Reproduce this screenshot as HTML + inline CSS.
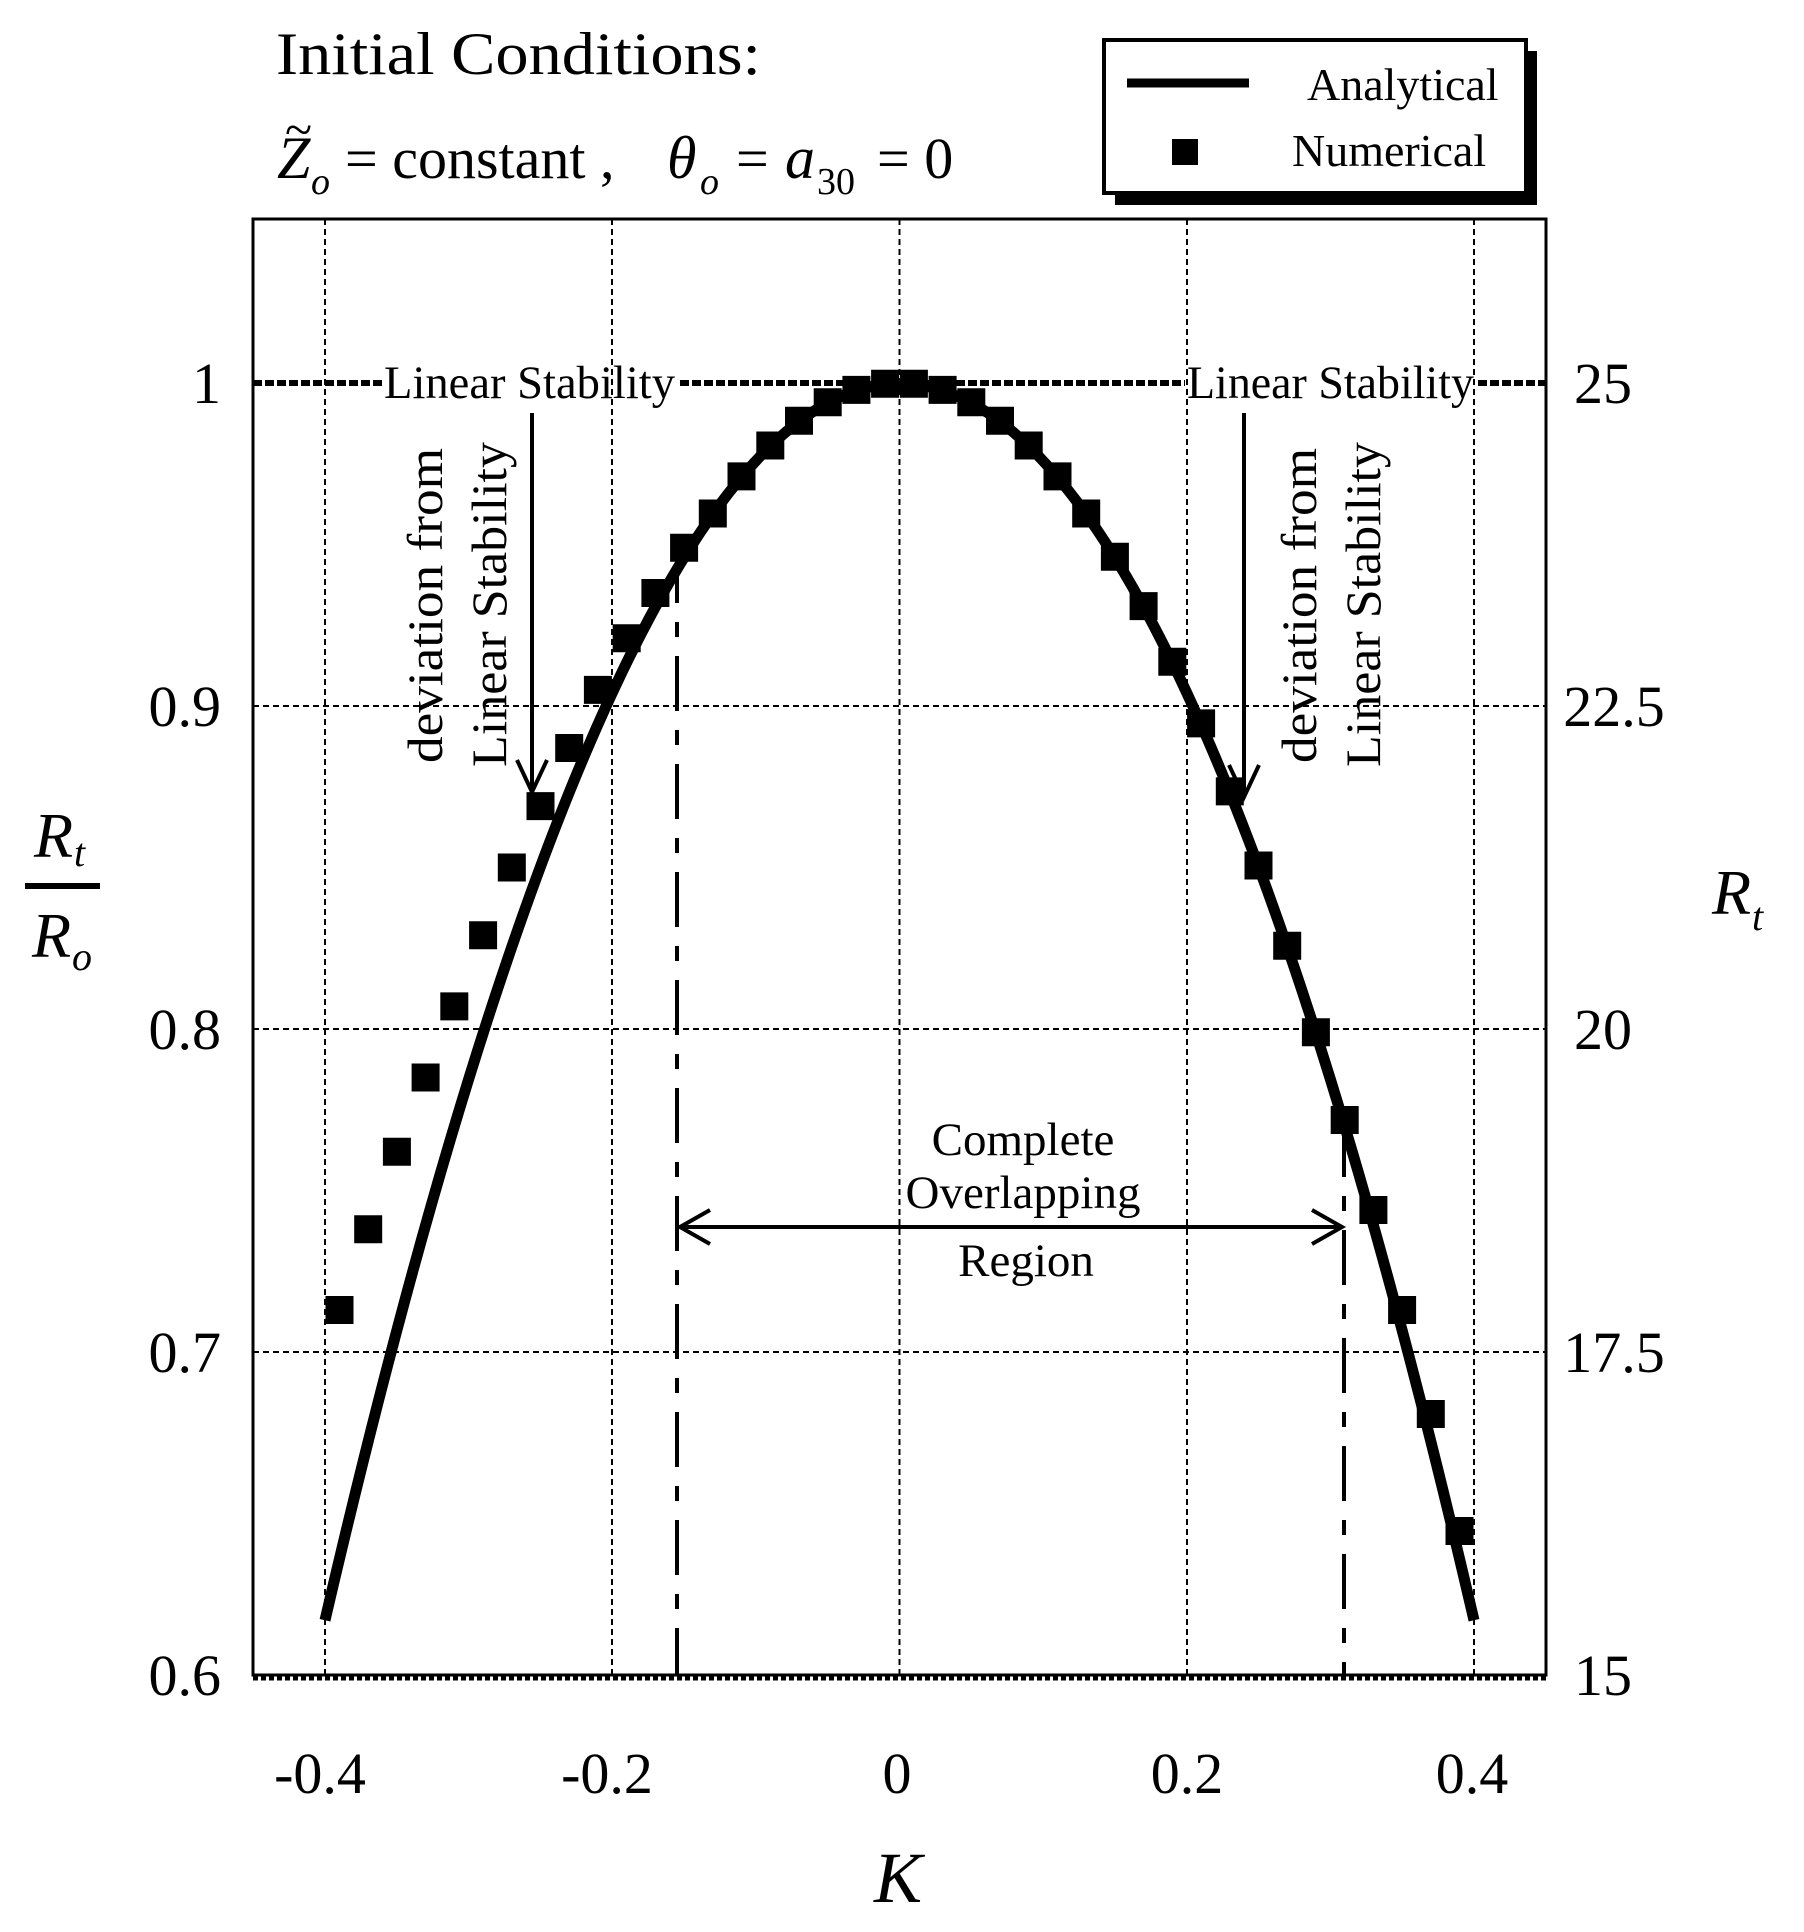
<!DOCTYPE html>
<html><head><meta charset="utf-8"><style>
html,body{margin:0;padding:0;background:#fff;}
svg{display:block;}
text{font-family:"Liberation Serif",serif;fill:#000;}
</style></head><body>
<svg width="1804" height="1932" viewBox="0 0 1804 1932" xmlns="http://www.w3.org/2000/svg">
<g stroke="#000" stroke-width="2" stroke-dasharray="6 4" fill="none">
<path d="M325 219V1675M612 219V1675M899.5 219V1675M1187 219V1675M1474 219V1675M253 706H1546M253 1029H1546M253 1352H1546"/>
<line x1="253" y1="1678" x2="1546" y2="1678" stroke-width="5" stroke-dasharray="5 3"/>
</g>
<path stroke="#000" stroke-width="6" stroke-dasharray="9 3" d="M253 383H382M680 383H1185M1478 383H1546"/>
<rect x="253" y="219" width="1293" height="1456" fill="none" stroke="#000" stroke-width="3"/>
<path stroke="#000" stroke-width="4" stroke-dasharray="55 19 15 19" d="M677 548V1675M1344 1122V1675"/>
<path fill="none" stroke="#000" stroke-width="11" d="M325 1620.3 Q899.5 -853 1474 1620.3"/>
<path fill="#000" transform="translate(-14,-14)" d="M913.9 383.8h28v28h-28zM942.6 389.9h28v28h-28zM971.3 402.3h28v28h-28zM1000 420.8h28v28h-28zM1028.7 445.5h28v28h-28zM1057.5 476.4h28v28h-28zM1086.2 513.5h28v28h-28zM1114.9 556.7h28v28h-28zM1143.6 606.1h28v28h-28zM1172.3 661.7h28v28h-28zM1201.1 723.4h28v28h-28zM1229.8 791.4h28v28h-28zM1258.5 865.5h28v28h-28zM1287.2 945.8h28v28h-28zM1315.9 1032.3h28v28h-28zM1344.7 1120h28v28h-28zM1373.4 1210h28v28h-28zM1402.1 1310h28v28h-28zM1430.8 1414h28v28h-28zM1459.5 1531h28v28h-28zM885.1 383.8h28v28h-28zM856.4 389.9h28v28h-28zM827.7 402.3h28v28h-28zM799 420.8h28v28h-28zM770.3 445.5h28v28h-28zM741.5 476.4h28v28h-28zM712.8 513.5h28v28h-28zM684.1 547.7h28v28h-28zM655.4 593h28v28h-28zM626.7 638.2h28v28h-28zM597.9 689.9h28v28h-28zM569.2 748h28v28h-28zM540.5 806.1h28v28h-28zM511.8 867.5h28v28h-28zM483.1 935.3h28v28h-28zM454.3 1006.4h28v28h-28zM425.6 1077.5h28v28h-28zM396.9 1151.7h28v28h-28zM368.2 1229.3h28v28h-28zM339.5 1310h28v28h-28z"/>
<path stroke="#000" stroke-width="4" fill="none" d="M680 1227H1342M710 1210L680 1227L710 1244M1312 1210L1342 1227L1312 1244M532 413V790M517 760L532 792L547 760M1244 413V795M1229 765L1244 797L1259 765"/>
<text x="384" y="398" font-size="47" textLength="291" lengthAdjust="spacingAndGlyphs">Linear Stability</text>
<text x="1187" y="398" font-size="47" textLength="287" lengthAdjust="spacingAndGlyphs">Linear Stability</text>
<text transform="translate(442,763) rotate(-90)" font-size="50" textLength="315" lengthAdjust="spacingAndGlyphs">deviation from</text>
<text transform="translate(506,767) rotate(-90)" font-size="50" textLength="325" lengthAdjust="spacingAndGlyphs">Linear Stability</text>
<text transform="translate(1316,763) rotate(-90)" font-size="50" textLength="315" lengthAdjust="spacingAndGlyphs">deviation from</text>
<text transform="translate(1380,767) rotate(-90)" font-size="50" textLength="325" lengthAdjust="spacingAndGlyphs">Linear Stability</text>
<text x="1023" y="1155" font-size="47" text-anchor="middle">Complete</text>
<text x="1023" y="1208" font-size="47" text-anchor="middle">Overlapping</text>
<text x="1026" y="1276" font-size="47" text-anchor="middle">Region</text>
<g font-size="58" text-anchor="end">
<text x="221" y="403">1</text>
<text x="221" y="726">0.9</text>
<text x="221" y="1049">0.8</text>
<text x="221" y="1372">0.7</text>
<text x="221" y="1695">0.6</text>
</g>
<g font-size="58" text-anchor="middle">
<text x="1603" y="403">25</text>
<text x="1614" y="726">22.5</text>
<text x="1603" y="1049">20</text>
<text x="1614" y="1372">17.5</text>
<text x="1603" y="1695">15</text>
<text x="320" y="1793">-0.4</text>
<text x="607" y="1793">-0.2</text>
<text x="897" y="1793">0</text>
<text x="1187" y="1793">0.2</text>
<text x="1472" y="1793">0.4</text>
</g>
<text x="898" y="1902" font-size="72" font-style="italic" text-anchor="middle">K</text>
<text x="34" y="857" font-size="64" font-style="italic">R</text>
<text x="74" y="866" font-size="40" font-style="italic">t</text>
<rect x="25" y="883" width="75" height="6" fill="#000"/>
<text x="32" y="957" font-size="64" font-style="italic">R</text>
<text x="72" y="970" font-size="40" font-style="italic">o</text>
<text x="1712" y="914" font-size="64" font-style="italic">R</text>
<text x="1752" y="930" font-size="40" font-style="italic">t</text>
<text x="276" y="74" font-size="60" textLength="485" lengthAdjust="spacingAndGlyphs">Initial Conditions:</text>
<text x="277" y="178" font-size="60" font-style="italic">Z</text>
<text x="285" y="146" font-size="50">~</text>
<text x="311" y="194" font-size="38" font-style="italic">o</text>
<text x="345" y="178" font-size="58">= constant ,</text>
<text x="667" y="178" font-size="60" font-style="italic">θ</text>
<text x="700" y="194" font-size="38" font-style="italic">o</text>
<text x="736" y="178" font-size="58">=</text>
<text x="785" y="178" font-size="60" font-style="italic">a</text>
<text x="817" y="194" font-size="38">30</text>
<text x="877" y="178" font-size="58">= 0</text>
<rect x="1115" y="51" width="422" height="154" fill="#000"/>
<rect x="1104" y="40" width="422" height="153" fill="#fff" stroke="#000" stroke-width="4"/>
<line x1="1127" y1="83" x2="1249" y2="83" stroke="#000" stroke-width="9"/>
<rect x="1172" y="139" width="26" height="26" fill="#000"/>
<text x="1307" y="100" font-size="46">Analytical</text>
<text x="1292" y="166" font-size="46">Numerical</text>
</svg>
</body></html>
